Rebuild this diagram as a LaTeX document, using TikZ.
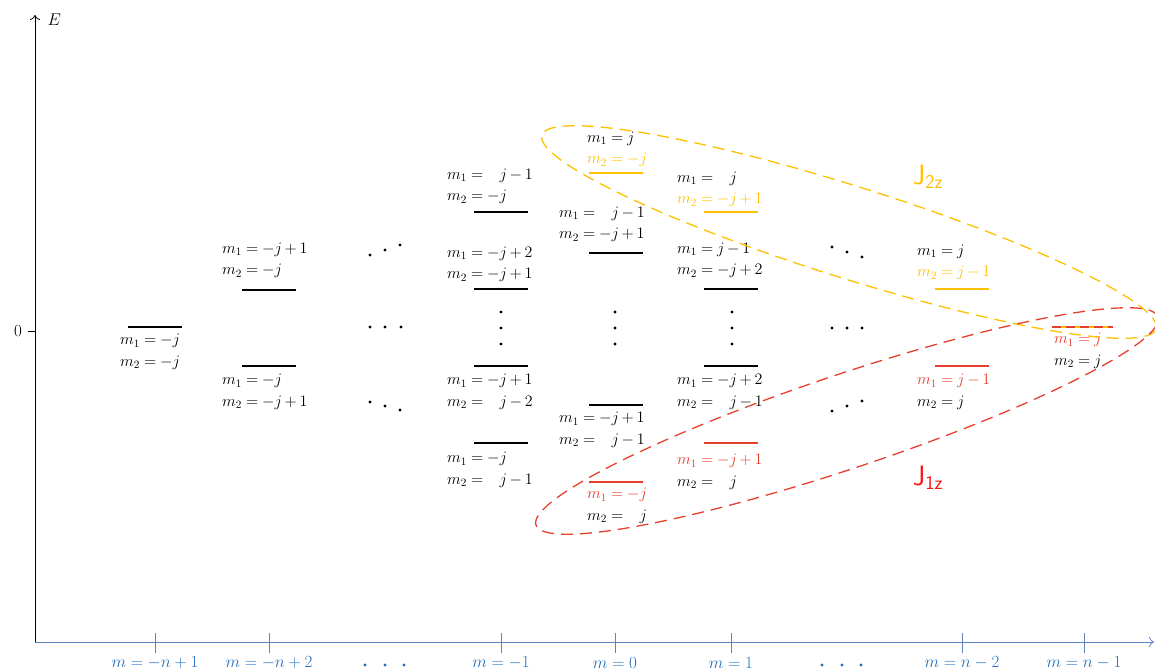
\documentclass[tikz,border=0pt]{standalone}
\usepackage{fix-cm}
\usepackage{tikz}
\usetikzlibrary{arrows.meta}
\definecolor{lvlorange}{RGB}{255,192,0}
\definecolor{lvlred}{RGB}{232,62,45}
\definecolor{jred}{RGB}{250,20,20}
\definecolor{axisblue}{RGB}{95,130,190}
\definecolor{tickblue}{RGB}{30,110,190}
\newcommand{\tightmath}{\thickmuskip=4.5mu\relax\medmuskip=3mu\relax}
\tikzset{
  level/.style={line width=2.4pt},
  lbl/.style={inner sep=0pt, align=left,
    font=\fontsize{16}{21.5}\selectfont\tightmath},
  up/.style={lbl, anchor=south west},
  down/.style={lbl, anchor=north west},
  ring/.style={dash pattern=on 12pt off 7pt, line width=1.3pt},
  ticklbl/.style={text=tickblue, font=\fontsize{17}{19}\selectfont},
  axis/.style={line width=0.8pt, -{To[length=5pt,width=10pt]}},
}
\newcommand{\mgap}{\phantom{-}}

\begin{document}
\begin{tikzpicture}[x=1pt, y=-1pt]
  \useasboundingbox (0,0) rectangle (1155,671);

  % axes
  \coordinate (O) at (35,642);
  \coordinate (Etop) at (35,15);
  \coordinate (mend) at (1154,642);
  \draw[axis] (O) -- (Etop);
  \draw[axis, axisblue] (O) -- (mend);
  \node[anchor=west, font=\fontsize{17}{17}\selectfont] (E) at (44,20) {$E$};
  \draw[line width=0.8pt] (28,331) -- (35,331);
  \node[font=\fontsize{17}{17}\selectfont] (zero) at (18,331) {$0$};

  \foreach \x/\lab in {155/{-n+1}, 269/{-n+2}, 501/{-1}, 615/{0}, 731/{1}, 962/{n-2}, 1084/{n-1}} {
    \draw[axisblue, line width=0.8pt] (\x,633) -- (\x,653);
    \node[ticklbl] (m\x) at (\x,663) {$m = \lab$};
  }
  \foreach \x in {365,385,404,822,842,861}
    \fill[tickblue] (\x,665) circle (1.7pt);

  % levels
  \foreach \x/\y in {155/327, 269/290, 269/366, 501/212, 501/289, 501/366, 501/443,
                     616/253, 616/405, 731/289, 731/366}
    \draw[level] ({\x-27},\y) -- ({\x+27},\y);
  \foreach \x/\y in {616/173, 731/212, 962/289}
    \draw[level, lvlorange] ({\x-27},\y) -- ({\x+27},\y);
  \foreach \x/\y in {616/482, 731/443, 962/366}
    \draw[level, lvlred] ({\x-27},\y) -- ({\x+27},\y);
  \draw[level, lvlorange] (1052,327) -- (1113,327);
  \draw[level, lvlred, dash pattern=on 9pt off 5pt] (1052,327) -- (1113,327);

  % dots
  \foreach \x/\y in {370/255, 385/250, 400/245, 370/327, 385/327, 401/327,
                     370/402, 385/406, 400/410, 832/247, 847/252, 862/257,
                     832/328, 847/328, 862/328, 832/411, 847/406, 862/401}
    \fill (\x,\y) circle (1.6pt);
  \foreach \x in {501,615,732}
    \foreach \y in {312,328,344}
      \fill (\x,\y) circle (1.6pt);

  % labels
  \node[down] (a1) at (120,334) {$m_1 = -j$\\$m_2 = -j$};
  \node[up] (b1) at (222,278) {$m_1 = -j+1$\\$m_2 = -j$};
  \node[down] (b2) at (222,374) {$m_1 = -j$\\$m_2 = -j+1$};
  \node[up] (c1) at (447,204) {$m_1 = \mgap j-1$\\$m_2 = -j$};
  \node[up] (c2) at (447,282) {$m_1 = -j+2$\\$m_2 = -j+1$};
  \node[down] (c3) at (447,374) {$m_1 = -j+1$\\$m_2 = \mgap j-2$};
  \node[down] (c4) at (447,452) {$m_1 = -j$\\$m_2 = \mgap j-1$};
  \node[up] (d1) at (587,167) {$m_1 = j$\\\textcolor{lvlorange}{$m_2 = -j$}};
  \node[up] (d2) at (559,242) {$m_1 = \mgap j-1$\\$m_2 = -j+1$};
  \node[down] (d3) at (559,412) {$m_1 = -j+1$\\$m_2 = \mgap j-1$};
  \node[down] (d4) at (587,488) {\textcolor{lvlred}{$m_1 = -j$}\\$m_2 = \mgap j$};
  \node[up] (e1) at (677,207) {$m_1 = \mgap j$\\\textcolor{lvlorange}{$m_2 = -j+1$}};
  \node[up] (e2) at (677,278) {$m_1 = j-1$\\$m_2 = -j+2$};
  \node[down] (e3) at (677,374) {$m_1 = -j+2$\\$m_2 = \mgap j-1$};
  \node[down] (e4) at (677,454) {\textcolor{lvlred}{$m_1 = -j+1$}\\$m_2 = \mgap j$};
  \node[up] (f1) at (917,280) {$m_1 = j$\\\textcolor{lvlorange}{$m_2 = j-1$}};
  \node[down] (f2) at (917,374) {\textcolor{lvlred}{$m_1 = j-1$}\\$m_2 = j$};
  \node[down] (g1) at (1054,333) {\textcolor{lvlred}{$m_1 = j$}\\$m_2 = j$};

  % J_z groups
  \draw[ring, lvlorange, rotate around={-17.5:(849,232)}] (849,232) ellipse [x radius=322pt, y radius=46pt];
  \draw[ring, lvlred, rotate around={18.5:(847,421)}] (847,421) ellipse [x radius=328pt, y radius=47pt];
  \node[text=lvlorange, font=\fontsize{28}{30}\selectfont\sffamily] (J2) at (928,177) {J\textsubscript{2z}};
  \node[text=jred, font=\fontsize{28}{30}\selectfont\sffamily] (J1) at (928,478) {J\textsubscript{1z}};
\end{tikzpicture}
\end{document}
